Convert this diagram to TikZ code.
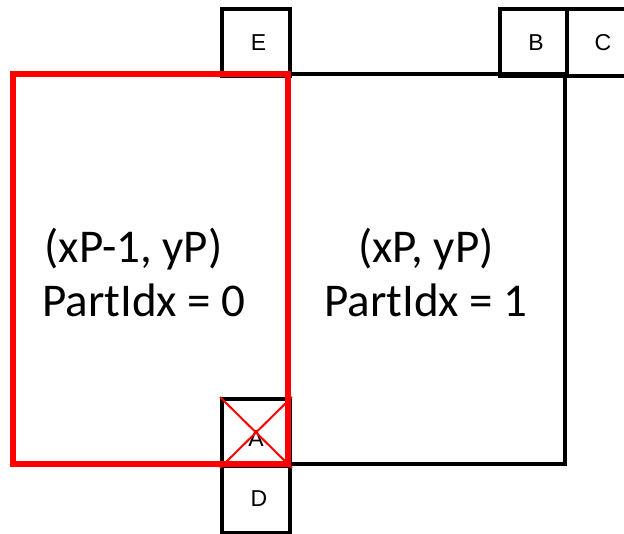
\documentclass[tikz,border=0pt]{standalone}
\usepackage{fontspec}
\setmainfont{Carlito}
\newfontfamily\lettersfont{Liberation Sans}
\begin{document}
\begin{tikzpicture}[x=1pt,y=-1pt,
  cell/.style={draw=black,line width=4pt,rectangle,minimum width=68pt,minimum height=67pt,inner sep=0pt,anchor=north west},
  letter/.style={font=\lettersfont\fontsize{23}{26}\selectfont,inner sep=0pt},
  big/.style={font=\fontsize{47}{54}\selectfont,inner sep=0pt,anchor=base},
  blk/.style={draw=black,line width=4pt},
  redbox/.style={draw=red,line width=6pt},
  cross/.style={draw=red,line width=2pt}]
\useasboundingbox (0,0) rectangle (624,533);
% boxes
\node[cell] (Ebox) at (220,7) {};
\node[cell,minimum width=67pt] (Bbox) at (498,7) {};
\node[cell] (Cbox) at (565,7) {};
\node[cell] (Dbox) at (220,464) {};
\node[cell] (Abox) at (220,397) {};
% big right rectangle
\coordinate (RTL) at (288,74);
\coordinate (RBR) at (565,464);
\draw[blk] (RTL) rectangle (RBR);
% red left rectangle
\coordinate (LTL) at (13,74);
\coordinate (LBR) at (288,464);
\draw[redbox] (LTL) rectangle (LBR);
% letters
\node[letter] (E) at (258.5,42.5) {E};
\node[letter] (B) at (536,42.5) {B};
\node[letter] (C) at (603,42.5) {C};
\node[letter] (D) at (259,498.5) {D};
\node[letter] (A) at (256,439) {A};
% red cross
\draw[cross] (Abox.north west) -- (Abox.south east);
\draw[cross] (Abox.north east) -- (Abox.south west);
% texts
\node[big] (L1) at (133.5,262.5) {(xP-1, yP)};
\node[big] (L2) at (144,316.5) {PartIdx = 0};
\node[big] (R1) at (426,262.5) {(xP, yP)};
\node[big] (R2) at (426,316.5) {PartIdx = 1};
\end{tikzpicture}
\end{document}
